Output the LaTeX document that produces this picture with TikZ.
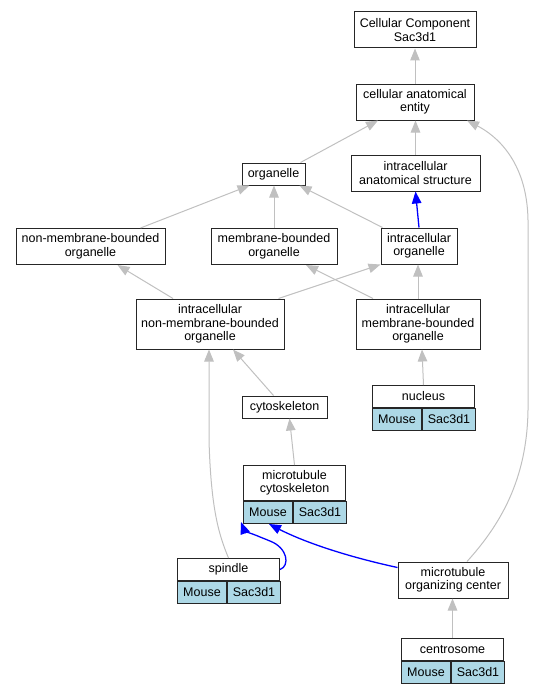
\documentclass[tikz,border=0pt]{standalone}
\usepackage{fontspec}
\setmainfont{Liberation Sans}
\usetikzlibrary{arrows.meta,positioning}
\definecolor{isagray}{RGB}{192,192,192}
\definecolor{cellblue}{RGB}{173,216,230}
\tikzset{font=\fontsize{12.5}{13.5}\selectfont}
\tikzset{
  term/.style={draw=black!85, line width=1pt, fill=white, align=center, inner sep=0pt},
  genecell/.style={term, fill=cellblue, minimum height=22pt},
  isa/.style={draw=isagray, line width=1pt, -{Triangle[length=12pt,width=9.5pt]}},
  partof/.style={draw=blue, line width=1.3pt, -{Triangle[length=12pt,width=9.5pt]}},
}

\begin{document}
\begin{tikzpicture}[x=1pt,y=-1pt]
  \useasboundingbox (0,0) rectangle (534,693);

  % terms
  \node[term, minimum width=122pt, minimum height=36pt] (cc) at (415,30) {Cellular Component\\Sac3d1};
  \node[term, minimum width=118pt, minimum height=36pt] (cae) at (415,102) {cellular anatomical\\entity};
  \node[term, minimum width=63pt, minimum height=22pt] (org) at (273.5,174) {organelle};
  \node[term, minimum width=129pt, minimum height=36pt] (ias) at (415.5,173) {intracellular\\anatomical structure};
  \node[term, minimum width=149pt, minimum height=36pt] (nmbo) at (90.5,246.5) {non-membrane-bounded\\organelle};
  \node[term, minimum width=126pt, minimum height=36pt] (mbo) at (274,246.5) {membrane-bounded\\organelle};
  \node[term, minimum width=76pt, minimum height=36pt] (io) at (419,246) {intracellular\\organelle};
  \node[term, minimum width=148pt, minimum height=50pt] (inmbo) at (210,324) {intracellular\\non-membrane-bounded\\organelle};
  \node[term, minimum width=124pt, minimum height=50pt] (imbo) at (418,324) {intracellular\\membrane-bounded\\organelle};
  \node[term, minimum width=85pt, minimum height=22pt] (cyto) at (284.5,407) {cytoskeleton};
  \node[term, minimum width=110pt, minimum height=36pt] (mtoc) at (453,580) {microtubule\\organizing center};

  % terms with genes
  \foreach \n/\x/\y/\h/\t in {nuc/372/385/22/nucleus, mtc/243/465/35/{microtubule\\cytoskeleton},
                              spin/177/558/22/spindle, cent/401/638/22/centrosome}{
    \node[term, anchor=north west, minimum width=102pt, minimum height=\h pt] (\n) at (\x,\y) {\t};
    \node[genecell, anchor=north west, minimum width=49pt] (\n-m) at (\n.south west) {Mouse};
    \node[genecell, anchor=north west, minimum width=53pt] (\n-g) at (\n-m.north east) {Sac3d1};
  };

  % is_a
  \draw[isa] (cae) -- (cc);
  \draw[isa] ([xshift=-5pt]org.north east) -- ([xshift=-37pt]cae.south);
  \draw[isa] (ias.north) -- (ias.north |- cae.south);
  \draw[isa] ([xshift=14pt]mtoc.north) .. controls (500,525) and (527,480) .. (528,410)
             -- (528,220) .. controls (527,160) and (495,135) .. ([xshift=52pt]cae.south);
  \draw[isa] ([xshift=50pt]nmbo.north) -- ([xshift=-24pt]org.south);
  \draw[isa] (mbo.north) -- (mbo.north |- org.south);
  \draw[isa] ([xshift=2pt]io.north west) -- ([xshift=-6pt]org.south east);
  \draw[isa] ([xshift=-37pt]inmbo.north) -- ([xshift=27pt]nmbo.south);
  \draw[isa] ([xshift=-45pt]imbo.north) -- ([xshift=32pt]mbo.south);
  \draw[isa] ([xshift=-6pt]inmbo.north east) -- (io.south west);
  \draw[isa] (imbo.north) -- (imbo.north |- io.south);
  \draw[isa] ([xshift=-11pt]cyto.north) -- ([xshift=23pt]inmbo.south);
  \draw[isa] (spin.north) .. controls (219,535) and (211,510) .. (209,440) -- ([xshift=-1pt]inmbo.south);
  \draw[isa] (nuc.north) -- ([xshift=4pt]imbo.south);
  \draw[isa] (mtc.north) -- ([xshift=5pt]cyto.south);
  \draw[isa] (cent.north) -- (cent.north |- mtoc.south);

  % part_of
  \draw[partof] (io.north) -- (ias.south);
  \draw[partof] (spin.east) .. controls (290,566) and (288,548) .. (270,541)
                .. controls (255,535) and (244,530) .. ([xshift=-2pt,yshift=2pt]mtc-m.south west);
  \draw[partof] ([yshift=-6pt]mtoc.north west) .. controls (340,555) and (300,540) .. ([xshift=-24pt]mtc-m.south east);
\end{tikzpicture}
\end{document}
